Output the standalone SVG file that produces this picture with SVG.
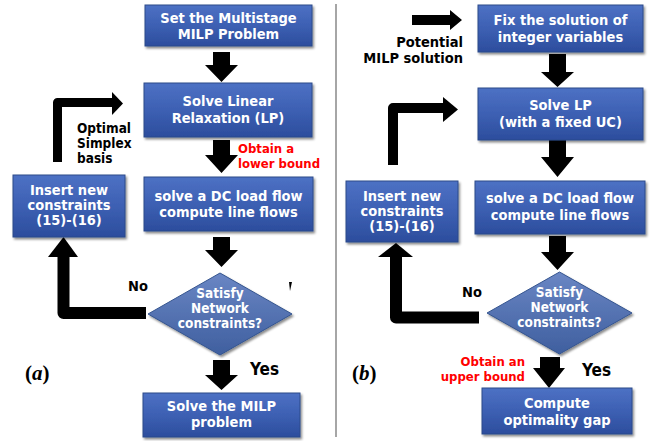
<svg xmlns="http://www.w3.org/2000/svg" width="654" height="441" viewBox="0 0 654 441">
<defs>
<linearGradient id="gb" x1="0" y1="0" x2="0" y2="1">
<stop offset="0" stop-color="#4d71c4"/>
<stop offset="0.5" stop-color="#3d60b3"/>
<stop offset="1" stop-color="#2c4d9d"/>
</linearGradient>
<linearGradient id="gd" x1="0" y1="0" x2="0" y2="1">
<stop offset="0" stop-color="#6a86c4"/>
<stop offset="1" stop-color="#3f5f9f"/>
</linearGradient>
<filter id="sh" x="-10%" y="-10%" width="125%" height="130%">
<feDropShadow dx="1.5" dy="2" stdDeviation="1.2" flood-color="#000" flood-opacity="0.45"/>
</filter>
</defs>
<style>
.box{fill:url(#gb);stroke:#2d4a8a;stroke-width:1;filter:url(#sh)}
.dia{fill:url(#gd);stroke:#35558f;stroke-width:1;filter:url(#sh)}
.bt{font-family:"DejaVu Sans Condensed","DejaVu Sans",sans-serif;font-weight:bold;font-size:14.5px;fill:#fff;text-anchor:middle}
.dt{font-family:"DejaVu Sans Condensed","DejaVu Sans",sans-serif;font-weight:bold;font-size:13.5px;fill:#fff;text-anchor:middle}
.lab{font-family:"DejaVu Sans Condensed","DejaVu Sans",sans-serif;font-weight:bold;font-size:13.5px;fill:#000}
.big{font-family:"DejaVu Sans Condensed","DejaVu Sans",sans-serif;font-weight:bold;font-size:14.5px;fill:#000}
.yes{font-family:"DejaVu Sans Condensed","DejaVu Sans",sans-serif;font-weight:bold;font-size:17px;fill:#000}
.red{font-family:"DejaVu Sans Condensed","DejaVu Sans",sans-serif;font-weight:bold;font-size:13px;fill:#ff0000}
.pl{font-family:"Liberation Serif","Times New Roman",serif;font-weight:bold;font-size:21px;fill:#000}
.arr{fill:#000}
.ln{fill:none;stroke:#000}
</style>
<rect width="654" height="441" fill="#fff"/>
<line x1="336" y1="4" x2="336" y2="437" stroke="#888" stroke-width="1.5"/>

<g id="connectors">
<path class="arr" d="M213,52H230V65H238L221.5,82L205,65H213Z"/>
<path class="arr" d="M213,140H230V155H238L221.5,173L205,155H213Z"/>
<path class="arr" d="M213,237H230V250H238L221.5,267L205,250H213Z"/>
<path class="arr" d="M213,360H230V375H238L221.5,390L205,375H213Z"/>
<path class="ln" d="M57.5,162V102.5H113" stroke-width="9" stroke-linejoin="round"/>
<path class="arr" d="M112,92L123,103.5L112,115Z"/>
<path class="ln" d="M146,313H63.5V256" stroke-width="12" stroke-linejoin="round"/>
<path class="arr" d="M48,257L63.5,237L78,257Z"/>
<path class="arr" d="M289,282H292L290,291Z"/>

<path class="arr" d="M412,15H450V10L462,20L450,30V25H412Z"/>
<path class="arr" d="M549,54H566V72H574L557.5,87L541,72H549Z"/>
<path class="arr" d="M549,140H566V157H574L557.5,177L541,157H549Z"/>
<path class="arr" d="M549,236H566V252H574L557.5,270L541,252H549Z"/>
<path class="arr" d="M540,357H560V368H565L549,388L533,368H540Z"/>
<path class="ln" d="M393,165V108H444" stroke-width="10" stroke-linejoin="round"/>
<path class="arr" d="M443,97L458,109.5L443,122Z"/>
<path class="ln" d="M479,317.5H396V256" stroke-width="12" stroke-linejoin="round"/>
<path class="arr" d="M378,257L396,243L413,257Z"/>
</g>

<g id="a_set">
<rect class="box" x="145" y="5" width="167" height="41"/>
<text class="bt" x="228.5" y="23">Set the Multistage</text>
<text class="bt" x="228.5" y="39">MILP Problem</text>
</g>
<g id="a_relax">
<rect class="box" x="144" y="83" width="168" height="54"/>
<text class="bt" x="228" y="106">Solve Linear</text>
<text class="bt" x="228" y="123">Relaxation (LP)</text>
</g>
<g id="a_dc">
<rect class="box" x="144" y="177" width="169" height="54"/>
<text class="bt" x="228.5" y="201">solve a DC load flow</text>
<text class="bt" x="228.5" y="217">compute line flows</text>
</g>
<g id="a_insert">
<rect class="box" x="13" y="175" width="112" height="62"/>
<text class="bt" x="69" y="195">Insert new</text>
<text class="bt" x="69" y="210">constraints</text>
<text class="bt" x="69" y="225">(15)-(16)</text>
</g>
<g id="a_check">
<polygon class="dia" points="220,273 292,314 220,355 148,314"/>
<text class="dt" x="220" y="298">Satisfy</text>
<text class="dt" x="220" y="313">Network</text>
<text class="dt" x="220" y="328">constraints?</text>
</g>
<g id="a_milp">
<rect class="box" x="143" y="393" width="157" height="44"/>
<text class="bt" x="221.5" y="411">Solve the MILP</text>
<text class="bt" x="221.5" y="427">problem</text>
</g>
<g id="a_labels">
<text class="lab" x="77" y="133">Optimal</text>
<text class="lab" x="77" y="148">Simplex</text>
<text class="lab" x="77" y="163">basis</text>
<text class="red" x="238" y="153">Obtain a</text>
<text class="red" x="238" y="168">lower bound</text>
<text class="big" x="128" y="291">No</text>
<text class="yes" x="250" y="375">Yes</text>
<text class="pl" x="25" y="380">(<tspan font-style="italic">a</tspan>)</text>
</g>

<g id="b_fix">
<rect class="box" x="478" y="5" width="165" height="47"/>
<text class="bt" x="560.5" y="25">Fix the solution of</text>
<text class="bt" x="560.5" y="42">integer variables</text>
</g>
<g id="b_lp">
<rect class="box" x="478" y="88" width="165" height="52"/>
<text class="bt" x="560.5" y="110">Solve LP</text>
<text class="bt" x="560.5" y="127">(with a fixed UC)</text>
</g>
<g id="b_dc">
<rect class="box" x="475" y="181" width="170" height="53"/>
<text class="bt" x="560" y="203">solve a DC load flow</text>
<text class="bt" x="560" y="220">compute line flows</text>
</g>
<g id="b_insert">
<rect class="box" x="346" y="181" width="112" height="61"/>
<text class="bt" x="402" y="201">Insert new</text>
<text class="bt" x="402" y="216">constraints</text>
<text class="bt" x="402" y="231">(15)-(16)</text>
</g>
<g id="b_check">
<polygon class="dia" points="559.5,272 632,313 559.5,354 487,313"/>
<text class="dt" x="559.5" y="297">Satisfy</text>
<text class="dt" x="559.5" y="312">Network</text>
<text class="dt" x="559.5" y="327">constraints?</text>
</g>
<g id="b_gap">
<rect class="box" x="482" y="388" width="150" height="46"/>
<text class="bt" x="557" y="408">Compute</text>
<text class="bt" x="557" y="425">optimality gap</text>
</g>
<g id="b_labels">
<text class="big" x="463" y="47" text-anchor="end">Potential</text>
<text class="big" x="463" y="63" text-anchor="end">MILP solution</text>
<text class="red" x="525" y="366" text-anchor="end">Obtain an</text>
<text class="red" x="525" y="381" text-anchor="end">upper bound</text>
<text class="big" x="462" y="297">No</text>
<text class="yes" x="582" y="376">Yes</text>
<text class="pl" x="352" y="380">(<tspan font-style="italic">b</tspan>)</text>
</g>
</svg>
